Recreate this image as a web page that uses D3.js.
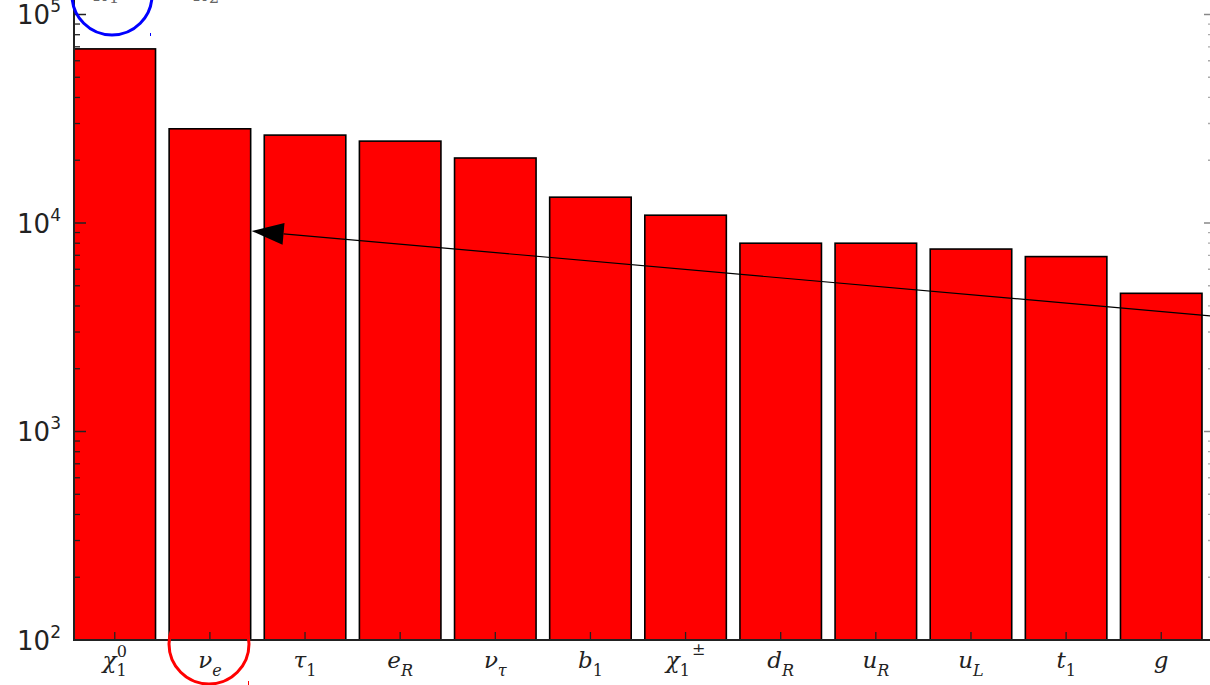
<!DOCTYPE html>
<html>
<head>
<meta charset="utf-8">
<script src="https://cdn.jsdelivr.net/npm/d3@7"></script>
<style>
  html, body { margin: 0; padding: 0; background: #fff; }
  svg { display: block; }
</style>
</head>
<body>
<div id="chart"></div>
<script>
// ---- data ----
const categories = ["chi10", "nue", "tau1", "eR", "nutau", "b1", "chi1pm", "dR", "uR", "uL", "t1", "g"];
const labelBase  = ["χ", "ν", "τ", "e", "ν", "b", "χ", "d", "u", "u", "t", "g"];
const labelSub   = ["1", "e", "1", "R", "τ", "1", "1", "R", "R", "L", "1", ""];
const labelSup   = ["0", "", "", "", "", "", "±", "", "", "", "", ""];
const values     = [68400, 28300, 26400, 24700, 20500, 13300, 10900, 8000, 8000, 7500, 6900, 4600];
const yTickValues = [100, 1000, 10000, 100000];
const yTickExponents = ["2", "3", "4", "5"];
// annotation arrow (values on the log axis)
const arrowTipValue = 9150;   // at right edge of the ν_e bar
const arrowTailValue = 3580;  // at right edge of the figure
// partially visible labels at the very top
const topLabelBase = ["χ", "χ"];
const topLabelSub = ["1", "2"];

const W = 1210, H = 685;
const svg = d3.select("#chart").append("svg").attr("width", W).attr("height", H);

const axLeft = 74, axRight = 1211, axBottom = 640;
const x = d3.scaleBand().domain(categories).range([74, 1202]).paddingInner(0.143).paddingOuter(0);
const y = d3.scaleLog().domain([100, 100000]).range([640, 14.5]);

// bars
svg.append("g").selectAll("rect").data(values).join("rect")
  .attr("x", (d, i) => x(categories[i]))
  .attr("y", d => y(d))
  .attr("width", x.bandwidth())
  .attr("height", d => y(100) - y(d))
  .attr("fill", "#ff0000")
  .attr("stroke", "#000")
  .attr("stroke-width", 1.6);

// minor/major y ticks
const minorVals = [];
for (let dec = 100; dec < 1e6; dec *= 10) {
  for (let k = 2; k <= 9; k++) minorVals.push(dec * k);
}
const tickG = svg.append("g").attr("stroke", "#222");
tickG.selectAll("line.minL").data(minorVals).join("line")
  .attr("x1", axLeft).attr("x2", axLeft + 6)
  .attr("y1", d => y(d)).attr("y2", d => y(d)).attr("stroke-width", 1.3);
tickG.selectAll("line.majL").data(yTickValues).join("line")
  .attr("x1", axLeft).attr("x2", axLeft + 12)
  .attr("y1", d => y(d)).attr("y2", d => y(d)).attr("stroke-width", 1.5);
tickG.selectAll("line.minR").data(minorVals).join("line")
  .attr("x1", axRight).attr("x2", axRight - 3)
  .attr("y1", d => y(d)).attr("y2", d => y(d)).attr("stroke-width", 1.3).attr("stroke", "#aaa");
tickG.selectAll("line.majR").data(yTickValues).join("line")
  .attr("x1", axRight).attr("x2", axRight - 7)
  .attr("y1", d => y(d)).attr("y2", d => y(d)).attr("stroke-width", 1.5).attr("stroke", "#888");

// x ticks (inward)
tickG.selectAll("line.xt").data(categories).join("line")
  .attr("x1", d => x(d) + x.bandwidth() / 2).attr("x2", d => x(d) + x.bandwidth() / 2)
  .attr("y1", axBottom).attr("y2", axBottom - 8).attr("stroke-width", 1.3);

// spines
svg.append("line").attr("x1", axLeft).attr("x2", axLeft).attr("y1", 0).attr("y2", axBottom + 1)
  .attr("stroke", "#222").attr("stroke-width", 2);
svg.append("line").attr("x1", axLeft - 1).attr("x2", axRight).attr("y1", axBottom).attr("y2", axBottom)
  .attr("stroke", "#222").attr("stroke-width", 2);

// y tick labels
const yl = svg.append("g").attr("font-family", "DejaVu Sans, sans-serif").attr("fill", "#222");
yTickValues.forEach((v, i) => {
  const t = yl.append("text").attr("x", 61).attr("y", y(v) + 9.5).attr("text-anchor", "end")
    .attr("font-size", 26);
  t.append("tspan").text("10");
  t.append("tspan").attr("font-size", 17).attr("dy", -12).text(yTickExponents[i]);
});

// x tick labels (math style)
const xl = svg.append("g").attr("font-family", "DejaVu Serif, serif").attr("fill", "#222");
categories.forEach((c, i) => {
  const cx = x(c) + x.bandwidth() / 2;
  const t = xl.append("text").attr("x", cx).attr("y", 668).attr("text-anchor", "middle")
    .attr("font-size", 23);
  t.append("tspan").attr("font-style", "italic").text(labelBase[i]);
  const sub = labelSub[i], sup = labelSup[i];
  const subItalic = !/^[0-9]$/.test(sub);
  if (sub) {
    t.append("tspan").attr("font-size", 16).attr("dy", 8)
      .attr("font-style", subItalic ? "italic" : "normal").text(sub);
  }
  if (sup === "0") {
    t.append("tspan").attr("font-size", 16).attr("dx", -10).attr("dy", -19).text(sup);
  } else if (sup) {
    t.append("tspan").attr("font-size", 16).attr("dx", 2).attr("dy", -21).text(sup);
  }
});

// arrow annotation
const tipX = x("nue") + x.bandwidth() + 1, tipY = y(arrowTipValue);
const tailX = W + 2, tailY = y(arrowTailValue);
const ang = Math.atan2(tailY - tipY, tailX - tipX);
const headLen = 32, headHalf = 11;
const bx = tipX + headLen * Math.cos(ang), by = tipY + headLen * Math.sin(ang);
svg.append("line").attr("x1", bx).attr("y1", by).attr("x2", tailX).attr("y2", tailY)
  .attr("stroke", "#000").attr("stroke-width", 1.1);
svg.append("path")
  .attr("d", `M${tipX},${tipY} L${bx - headHalf * Math.sin(ang)},${by + headHalf * Math.cos(ang)} L${bx + headHalf * Math.sin(ang)},${by - headHalf * Math.cos(ang)} Z`)
  .attr("fill", "#000");

// partially visible top labels
const tl = svg.append("g").attr("font-family", "DejaVu Serif, serif").attr("fill", "#666");
[107, 207].forEach((px, i) => {
  const t = tl.append("text").attr("x", px).attr("y", -4).attr("text-anchor", "middle").attr("font-size", 23);
  t.append("tspan").attr("font-style", "italic").text(topLabelBase[i]);
  t.append("tspan").attr("font-size", 16).attr("dy", 7).text(topLabelSub[i]);
});

// highlight circles
svg.append("circle").attr("cx", 112).attr("cy", -5).attr("r", 40)
  .attr("fill", "none").attr("stroke", "#0000ff").attr("stroke-width", 3);
svg.append("line").attr("x1", 150.5).attr("x2", 150.5).attr("y1", 33).attr("y2", 36)
  .attr("stroke", "#0000ff").attr("stroke-width", 1);
svg.append("circle").attr("cx", 209).attr("cy", 644).attr("r", 40)
  .attr("fill", "none").attr("stroke", "#ff0000").attr("stroke-width", 3);
svg.append("line").attr("x1", 248.5).attr("x2", 248.5).attr("y1", 681).attr("y2", 685)
  .attr("stroke", "#ff0000").attr("stroke-width", 1);
</script>
</body>
</html>
